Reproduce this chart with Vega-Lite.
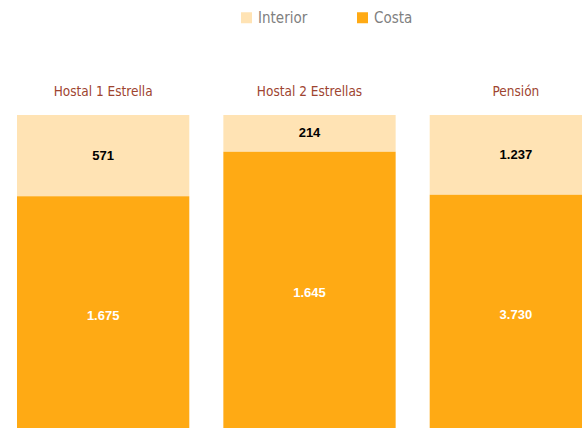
{
  "$schema": "https://vega.github.io/schema/vega-lite/v6.json",
  "autosize": "none",
  "padding": {"left": 17, "top": 115, "right": 0, "bottom": 0},
  "width": 585,
  "height": 320,
  "background": "white",
  "config": {
    "view": {"stroke": null},
    "locale": {"number": {"decimal": ",", "thousands": ".", "grouping": [3], "currency": ["", " €"]}}
  },
  "data": {
    "values": [
      {"cat": "Hostal 1 Estrella", "type": "Interior", "value": 571},
      {"cat": "Hostal 1 Estrella", "type": "Costa", "value": 1675},
      {"cat": "Hostal 2 Estrellas", "type": "Interior", "value": 214},
      {"cat": "Hostal 2 Estrellas", "type": "Costa", "value": 1645},
      {"cat": "Pensión", "type": "Interior", "value": 1237},
      {"cat": "Pensión", "type": "Costa", "value": 3730}
    ]
  },
  "encoding": {
    "x": {
      "field": "cat", "type": "nominal", "sort": null,
      "scale": {"paddingInner": 0.165, "paddingOuter": 0},
      "axis": {
        "orient": "top", "title": null, "domain": false, "ticks": false,
        "labelAngle": 0, "labelPadding": 17, "labelFont": "DejaVu Sans Condensed, Roboto, sans-serif",
        "labelFontSize": 13.5, "labelColor": "#9E4430"
      }
    },
    "y": {
      "field": "value", "type": "quantitative", "stack": "normalize",
      "axis": null, "scale": {"domain": [0, 1]}
    },
    "order": {"field": "type", "sort": "ascending"}
  },
  "layer": [
    {
      "mark": {"type": "bar"},
      "encoding": {
        "color": {
          "field": "type", "type": "nominal",
          "scale": {"domain": ["Interior", "Costa"], "range": ["#FFE3B4", "#FFAA14"]},
          "legend": {
            "orient": "none", "legendX": 222, "legendY": -105,
            "direction": "horizontal", "title": null,
            "symbolType": "square", "symbolSize": 121, "symbolStrokeWidth": 0,
            "labelFont": "DejaVu Sans Condensed, Roboto, sans-serif", "labelFontSize": 15,
            "labelColor": "#808080", "columnPadding": 47, "labelOffset": 4
          }
        }
      }
    },
    {
      "mark": {"type": "text", "font": "Liberation Sans", "fontWeight": "bold", "fontSize": 13, "baseline": "middle"},
      "encoding": {
        "y": {"field": "value", "type": "quantitative", "stack": "normalize", "bandPosition": 0.5},
        "text": {"field": "value", "type": "quantitative", "format": ",.0f"},
        "color": {"condition": {"test": "datum.type === 'Costa'", "value": "white"}, "value": "black"}
      }
    }
  ]
}
